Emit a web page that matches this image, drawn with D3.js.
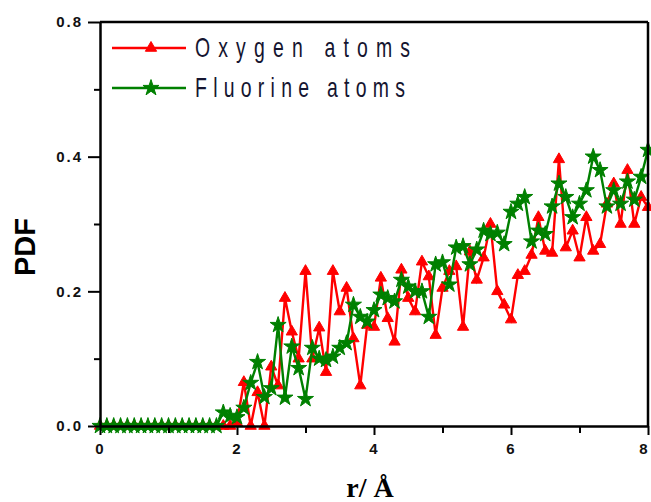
<!DOCTYPE html>
<html>
<head>
<meta charset="utf-8">
<script src="https://cdn.jsdelivr.net/npm/d3@7"></script>
<style>
  body { margin: 0; background: #fff; }
  svg { display: block; }
</style>
</head>
<body>
<div id="chart"></div>
<script>
// r values (Angstrom), step 0.1
var rValues = [0.0,0.1,0.2,0.3,0.4,0.5,0.6,0.7,0.8,0.9,
    1.0,1.1,1.2,1.3,1.4,1.5,1.6,1.7,1.8,1.9,
    2.0,2.1,2.2,2.3,2.4,2.5,2.6,2.7,2.8,2.9,
    3.0,3.1,3.2,3.3,3.4,3.5,3.6,3.7,3.8,3.9,
    4.0,4.1,4.2,4.3,4.4,4.5,4.6,4.7,4.8,4.9,
    5.0,5.1,5.2,5.3,5.4,5.5,5.6,5.7,5.8,5.9,
    6.0,6.1,6.2,6.3,6.4,6.5,6.6,6.7,6.8,6.9,
    7.0,7.1,7.2,7.3,7.4,7.5,7.6,7.7,7.8,7.9,8.0];

var oxygen = [0,0,0,0,0,0,0,0,0,0,
    0,0,0,0,0,0,0,0,0,0,
    0.005,0.065,0.0,0.05,0.0,0.088,0.06,0.19,0.14,0.10,
    0.23,0.10,0.146,0.08,0.23,0.17,0.205,0.13,0.06,0.15,
    0.147,0.22,0.16,0.125,0.232,0.19,0.17,0.244,0.222,0.135,
    0.205,0.23,0.237,0.147,0.259,0.217,0.25,0.30,0.20,0.18,
    0.158,0.224,0.23,0.254,0.31,0.26,0.257,0.396,0.265,0.29,
    0.25,0.31,0.26,0.27,0.33,0.36,0.30,0.38,0.30,0.34,0.325];

var fluorine = [0,0,0,0,0,0,0,0,0,0,
    0,0,0,0,0,0,0,0,0.02,0.015,
    0.013,0.027,0.064,0.095,0.043,0.056,0.15,0.042,0.118,0.086,
    0.04,0.116,0.10,0.098,0.103,0.116,0.123,0.18,0.162,0.155,
    0.172,0.195,0.19,0.185,0.217,0.207,0.2,0.2,0.162,0.24,
    0.243,0.21,0.265,0.267,0.24,0.262,0.29,0.285,0.287,0.27,
    0.318,0.33,0.34,0.274,0.29,0.285,0.326,0.36,0.34,0.31,
    0.33,0.35,0.40,0.38,0.326,0.35,0.33,0.363,0.336,0.37,0.41];

var xTicks = [0,1,2,3,4,5,6,7,8];
var xTickLabels = ["0","","2","","4","","6","","8"];
var yTicks = [0,0.1,0.2,0.3,0.4,0.5,0.6];
var yTickLabels = ["0.0","","0.2","","0.4","","0.8"];
var seriesNames = ["Oxygen  atoms", "Fluorine atoms"];
var seriesColors = ["#ff0000", "#008000"];

var width = 651, height = 502;
var svg = d3.select("#chart")
    .append("svg")
    .attr("width", width)
    .attr("height", height)
    .style("font-family", "Arial, 'Liberation Sans', sans-serif");

var x = d3.scaleLinear().domain([0, 8]).range([100, 648]);
var y = d3.scaleLinear().domain([0, 0.6]).range([426, 22]);

// data lines + markers (red first, green on top)
var series = [oxygen, fluorine];
var symbols = [d3.symbol().type(d3.symbolTriangle).size(55),
               d3.symbol().type(d3.symbolStar).size(80)];

var line = d3.line()
    .x(function (d, i) { return x(rValues[i]); })
    .y(function (d) { return y(d); });

series.forEach(function (vals, s) {
    svg.append("path")
        .datum(vals)
        .attr("fill", "none")
        .attr("stroke", seriesColors[s])
        .attr("stroke-width", 2.4)
        .attr("d", line);

    svg.append("g").selectAll("path")
        .data(vals)
        .enter()
        .append("path")
        .attr("d", symbols[s])
        .attr("fill", seriesColors[s])
        .attr("stroke", seriesColors[s])
        .attr("stroke-width", 1)
        .attr("transform", function (d, i) {
            return "translate(" + x(rValues[i]) + "," + y(d) + ")";
        });
});

// axes
var xAxis = svg.append("g")
    .attr("transform", "translate(0,426)")
    .call(d3.axisBottom(x)
        .tickValues(xTicks)
        .tickSize(9)
        .tickSizeOuter(0)
        .tickPadding(8)
        .tickFormat(function (d, i) { return xTickLabels[i]; }));

var yAxis = svg.append("g")
    .attr("transform", "translate(100,0)")
    .call(d3.axisLeft(y)
        .tickValues(yTicks)
        .tickSize(12)
        .tickSizeOuter(0)
        .tickPadding(5)
        .tickFormat(function (d, i) { return yTickLabels[i]; }));

[xAxis, yAxis].forEach(function (g) {
    g.select(".domain").attr("stroke-width", 2.5);
    g.selectAll(".tick line").attr("stroke-width", 2);
    g.selectAll(".tick text")
        .attr("fill", "#111")
        .style("font-size", "15px")
        .style("font-weight", "bold")
        .style("letter-spacing", "2px");
});
xAxis.selectAll(".tick line").filter(function (d, i) { return i % 2 === 1; }).attr("y2", 7);
yAxis.selectAll(".tick line").filter(function (d, i) { return i % 2 === 1; }).attr("x2", -6);
// keep the last x label inside the window
xAxis.selectAll(".tick text").filter(function (d) { return d === 8; }).attr("dx", -4);

// frame top and right
svg.append("line")
    .attr("x1", 100).attr("x2", 648)
    .attr("y1", 22).attr("y2", 22)
    .attr("stroke", "#000").attr("stroke-width", 2.5);
svg.append("line")
    .attr("x1", 648).attr("x2", 648)
    .attr("y1", 22).attr("y2", 426)
    .attr("stroke", "#000").attr("stroke-width", 2.5);

// axis titles
svg.append("text")
    .attr("transform", "translate(35,247) rotate(-90)")
    .attr("text-anchor", "middle")
    .style("font-size", "29px")
    .style("font-weight", "bold")
    .text("PDF");

svg.append("text")
    .attr("x", 370)
    .attr("y", 497)
    .attr("text-anchor", "middle")
    .style("font-family", "'Liberation Serif', 'Times New Roman', serif")
    .style("font-size", "28px")
    .style("font-weight", "bold")
    .text("r/ Å");

// legend
var legendY = [48, 88];
seriesNames.forEach(function (name, s) {
    var g = svg.append("g");
    g.append("line")
        .attr("x1", 112).attr("x2", 186)
        .attr("y1", legendY[s]).attr("y2", legendY[s])
        .attr("stroke", seriesColors[s])
        .attr("stroke-width", 2.4);
    g.append("path")
        .attr("d", symbols[s])
        .attr("fill", seriesColors[s])
        .attr("stroke", seriesColors[s])
        .attr("stroke-width", 1)
        .attr("transform", "translate(151," + legendY[s] + ")");
    g.append("text")
        .attr("transform", "translate(195," + (legendY[s] + 9) + ") scale(0.72,1)")
        .attr("textLength", (s === 0 ? 215 : 210) / 0.72)
        .attr("lengthAdjust", "spacing")
        .attr("fill", "#151530")
        .style("font-size", "27px")
        .text(name);
});
</script>
</body>
</html>
